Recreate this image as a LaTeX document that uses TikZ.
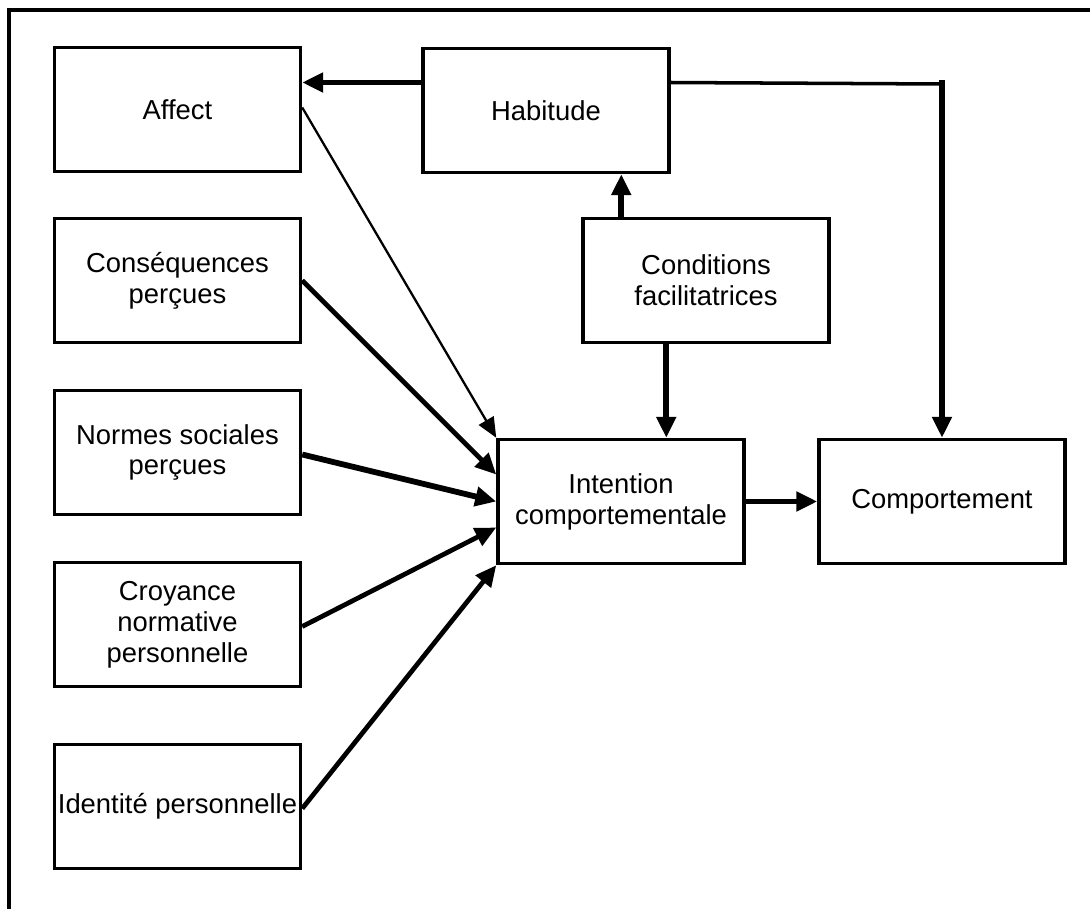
\documentclass[tikz,border=0pt]{standalone}
\usepackage{fontspec}
\setmainfont{Liberation Sans}
\usetikzlibrary{arrows.meta, calc}

\begin{document}
\begin{tikzpicture}[
    x=0.02cm, y=-0.02cm,
    font=\fontsize{15.6}{17.6}\selectfont,
    % Node styles
    block/.style={rectangle, draw, line width=2pt, minimum width=4.92cm, minimum height=2.48cm, inner xsep=1pt, align=center},
    arrow/.style={-{Triangle[length=0.42cm, width=0.38cm]}, line width=3.3pt},
    thinarrow/.style={-{Triangle[length=0.4cm, width=0.34cm]}, line width=1.3pt},
    midarrow/.style={-{Triangle[length=0.42cm, width=0.38cm]}, line width=2.7pt},
    link/.style={line width=2pt},
    frame/.style={line width=2pt},
]
\useasboundingbox (0,0) rectangle (1090,909);

% Outer frame (top and left sides only)
\draw[frame] (9,909) -- (9,10) -- (1090,10);

% ============================================================================
% LEFT COLUMN: DETERMINANTS
% ============================================================================
\node[block] (affect) at (177.5, 109.5) {Affect};
\node[block] (consequences) at (177.5, 280.5) {Conséquences\\perçues};
\node[block] (normes) at (177.5, 452.5) {Normes sociales\\perçues};
\node[block] (croyance) at (177.5, 624.5) {Croyance\\normative\\personnelle};
\node[block] (identite) at (177.5, 806.5) {Identité personnelle};

% ============================================================================
% CENTRE AND RIGHT
% ============================================================================
\node[block] (habitude) at (546, 110.5) {Habitude};
\node[block] (conditions) at (706, 280.5) {Conditions\\facilitatrices};
\node[block] (intention) at (621, 501.5) {Intention\\comportementale};
\node[block] (comportement) at (942, 501.5) {Comportement};

% Habitude -> Affect
\coordinate (hab-w) at ($(habitude.west)+(0,-28)$);
\draw[arrow] (hab-w) -- (hab-w -| affect.east);

% Habitude -> Comportement
\coordinate (hab-e) at ($(habitude.east)+(0,-28)$);
\coordinate (turn) at (942, 84);
\draw[link] (hab-e) -- (turn);
\draw[arrow] ($(turn)+(0,-4)$) -- (comportement.north);

% Conditions -> Habitude, Conditions -> Intention
\coordinate (cond-n) at ($(conditions.north west)+(40,0)$);
\draw[arrow] (cond-n) -- (cond-n |- habitude.south);
\coordinate (cond-s) at ($(conditions.south west)+(85,0)$);
\draw[arrow] (cond-s) -- (cond-s |- intention.north);

% Intention -> Comportement
\draw[arrow] (intention.east) -- (comportement.west);

% Determinants -> Intention
\draw[thinarrow] ($(affect.east)+(0,-2)$) -- (intention.north west);
\draw[midarrow] (consequences.east) -- ($(intention.west)+(0,-27)$);
\draw[arrow] ($(normes.east)+(0,2)$) -- (intention.west);
\draw[midarrow] ($(croyance.east)+(0,2)$) -- ($(intention.west)+(0,26)$);
\draw[midarrow] ($(identite.east)+(0,2)$) -- (intention.south west);

\end{tikzpicture}
\end{document}
